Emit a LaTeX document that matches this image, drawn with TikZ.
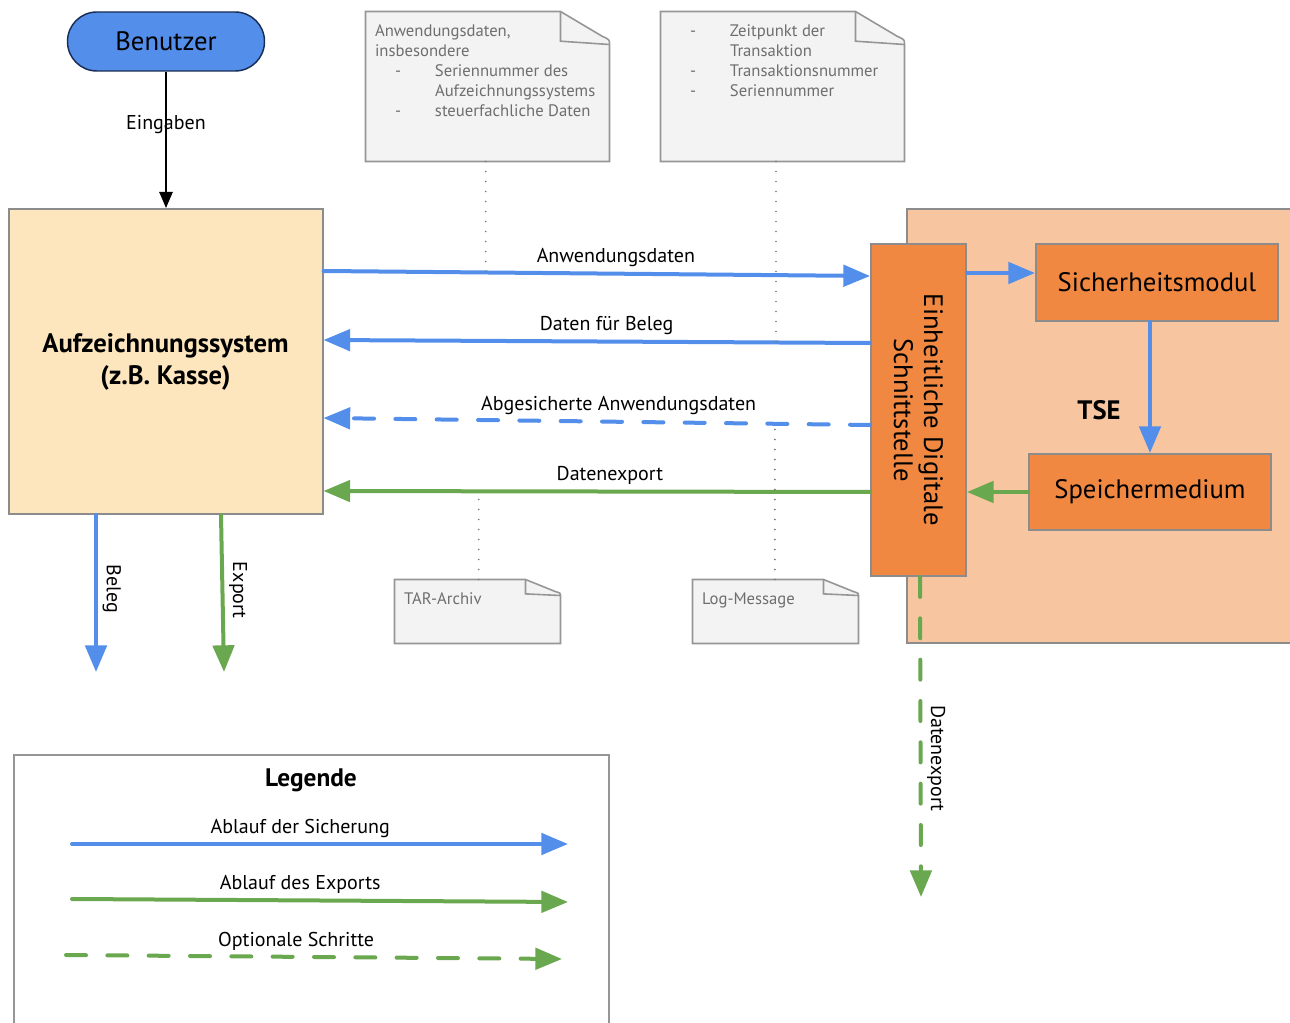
\documentclass[tikz,border=0pt]{standalone}
\usepackage{fontspec}
\setmainfont{PT Sans}
\usetikzlibrary{arrows.meta}

\definecolor{flowblue}{RGB}{82,142,234}
\definecolor{flowgreen}{RGB}{106,168,79}
\definecolor{boxorange}{RGB}{240,136,66}
\definecolor{tsebg}{RGB}{247,198,160}
\definecolor{sysfill}{RGB}{253,230,190}
\definecolor{notegray}{RGB}{243,243,243}
\definecolor{noteframe}{RGB}{150,150,150}
\definecolor{notetextgray}{RGB}{110,110,110}
\definecolor{boxframe}{RGB}{140,140,140}
\definecolor{userframe}{RGB}{25,45,85}
\definecolor{dotgray}{RGB}{120,120,120}

\tikzset{every picture/.style={line width=0.75pt}}
\tikzset{
  userbox/.style={draw=userframe, fill=flowblue, line width=1.1pt, rounded corners=22pt,
    minimum width=147.75pt, minimum height=44.25pt, font=\fontsize{20}{24}\selectfont},
  sysbox/.style={draw=boxframe, fill=sysfill, line width=1.5pt, align=center,
    minimum width=235.5pt, minimum height=228.75pt, font=\fontsize{20}{24}\selectfont\bfseries},
  tsebox/.style={draw=boxframe, fill=tsebg, line width=1.5pt,
    minimum width=288.75pt, minimum height=325.5pt},
  orangebox/.style={draw=boxframe, fill=boxorange, line width=1.5pt, font=\fontsize{20}{24}\selectfont},
  notebody/.style={draw=none, inner sep=0pt},
  noteline/.style={draw=noteframe, line width=1.2pt},
  notetext/.style={anchor=north west, inner sep=0pt, align=left, text=notetextgray,
    font=\fontsize{12.5}{15}\selectfont},
  dotline/.style={draw=dotgray, line width=1.4pt, line cap=round, dash pattern=on 0pt off 7.5pt},
  lbl/.style={font=\fontsize{15}{18}\selectfont, inner sep=3.5pt},
  inputflow/.style={draw=black, line width=1.1pt, -{Triangle[length=12pt,width=10pt]}},
  blueflow/.style={draw=flowblue, line width=3pt, line cap=round, -{Triangle[length=20pt,width=16pt]}},
  greenflow/.style={draw=flowgreen, line width=3pt, line cap=round, -{Triangle[length=20pt,width=16pt]}},
  optional/.style={dash pattern=on 15pt off 16pt}
}

% note outline: node, fold width, fold height (yshift points down, y is flipped)
\newcommand{\drawnote}[3]{%
  \draw[noteline, fill=notegray] (#1.north west) -- ([xshift=-#2]#1.north east)
    -- ([xshift=-0.15*#2, yshift=0.75*#3]#1.north east)
    .. controls ([yshift=0.85*#3]#1.north east) .. ([yshift=#3]#1.north east)
    -- (#1.south east) -- (#1.south west) -- cycle;
  \draw[noteline] ([xshift=-#2]#1.north east) -- ([xshift=-#2, yshift=0.9*#3]#1.north east)
    -- ([yshift=#3]#1.north east);
}
\newcommand{\notedash}{\makebox[45pt][l]{\hspace*{15pt}-}}
\newcommand{\noteskip}{\hspace*{45pt}}

\begin{document}
\begin{tikzpicture}[x=0.75pt,y=0.75pt,yscale=-1,xscale=1]
\useasboundingbox (0,0) rectangle (1290,1023);

% boxes
\node[userbox] (user) at (166,41.5) {Benutzer};
\node[sysbox] (sys) at (165.5,361.5) {Aufzeichnungssystem\\(z.B. Kasse)};
\node[tsebox] (tse) at (1099.5,426) {};
\node[orangebox, minimum width=71.25pt, minimum height=249pt] (eds) at (918.5,410) {};
\node[font=\fontsize{20}{22.5}\selectfont, rotate=-90, align=center] (edstext) at (eds.center) {Einheitliche Digitale\\Schnittstelle};
\node[orangebox, minimum width=181.5pt, minimum height=57.75pt] (sec) at (1157,282.5) {Sicherheitsmodul};
\node[orangebox, minimum width=181.5pt, minimum height=57pt] (mem) at (1150,492) {Speichermedium};
\node[font=\fontsize{20}{24}\selectfont\bfseries] (tselabel) at (1099,410) {TSE};

% notes
\node[notebody, minimum width=182.25pt, minimum height=111.75pt] (noteA) at (487.5,86.5) {};
\drawnote{noteA}{36.75pt}{24.75pt}
\node[notetext] (noteAtext) at ([xshift=6.75pt,yshift=9.75pt]noteA.north west)
  {Anwendungsdaten,\\insbesondere\\\notedash Seriennummer des\\\noteskip Aufzeichnungssystems\\\notedash steuerfachliche Daten};
\node[notebody, minimum width=182.25pt, minimum height=111.75pt] (noteB) at (782.5,86.5) {};
\drawnote{noteB}{36.75pt}{24.75pt}
\node[notetext] (noteBtext) at ([xshift=6.75pt,yshift=9.75pt]noteB.north west)
  {\notedash Zeitpunkt der\\\noteskip Transaktion\\\notedash Transaktionsnummer\\\notedash Seriennummer};
\node[notebody, minimum width=123.75pt, minimum height=47.25pt] (noteC) at (477.5,611.5) {};
\drawnote{noteC}{26.25pt}{12pt}
\node[notetext] (noteCtext) at ([xshift=6.75pt,yshift=9.75pt]noteC.north west) {TAR-Archiv};
\node[notebody, minimum width=123.75pt, minimum height=47.25pt] (noteD) at (775.5,611.5) {};
\drawnote{noteD}{26.25pt}{12pt}
\node[notetext] (noteDtext) at ([xshift=6.75pt,yshift=9.75pt]noteD.north west) {Log-Message};

% input
\draw[inputflow] (user.south) -- node[lbl, pos=0.39] {Eingaben} (user.south |- sys.north);

% flows between system and interface
\draw[blueflow] (sys.east |- 0,271) -- coordinate[pos=0.297] (pA)
  node[lbl, above, pos=0.535] {Anwendungsdaten} (eds.west |- 0,276);
\draw[blueflow] (eds.west |- 0,343) -- coordinate[pos=0.172] (pB)
  node[lbl, above, pos=0.482] {Daten für Beleg} (sys.east |- 0,340);
\draw[blueflow, optional] (eds.west |- 0,425) -- coordinate[pos=0.174] (pD)
  node[lbl, above, pos=0.46] {Abgesicherte Anwendungsdaten} (sys.east |- 0,418);
\draw[greenflow] (eds.west |- 0,492) -- coordinate[pos=0.716] (pC)
  node[lbl, above, pos=0.476] {Datenexport} (sys.east |- 0,491);

% inside TSE
\draw[blueflow] (eds.east |- 0,273) -- (sec.west |- 0,273);
\draw[blueflow] (mem.north |- sec.south) -- (mem.north);
\draw[greenflow] (mem.west) -- (eds.east |- mem.west);

% note links
\draw[dotline] (pA |- noteA.south) -- (pA);
\draw[dotline] (pB |- noteB.south) -- (pB);
\draw[dotline] (pC |- noteC.north) -- (pC);
\draw[dotline] (pD |- noteD.north) -- (pD);

% outputs
\coordinate (belegend) at (96,672);
\coordinate (exportend) at (224,672);
\coordinate (dexend) at (921,897);
\draw[blueflow] (sys.south -| belegend) -- node[lbl, rotate=-90, above, pos=0.47] {Beleg} (belegend);
\draw[greenflow] (sys.south -| 221,0) -- node[lbl, rotate=-90, above, pos=0.48] {Export} (exportend);
\draw[greenflow, optional] (eds.south -| 920,0) -- node[lbl, rotate=-90, above, pos=0.567] {Datenexport} (dexend);

% legend
\draw[draw=noteframe, line width=1.5pt] (14,1030) -- (14,755) -- (609,755) -- (609,1030);
\node[font=\fontsize{19}{23}\selectfont\bfseries] (legtitle) at (311,780) {Legende};
\coordinate (legA1) at (72,844);
\coordinate (legA2) at (568,844);
\coordinate (legB1) at (72,899);
\coordinate (legB2) at (568,902);
\coordinate (legC1) at (66,955);
\coordinate (legC2) at (562,959);
\draw[blueflow] (legA1) -- node[lbl, above, pos=0.46] {Ablauf der Sicherung} (legA2);
\draw[greenflow] (legB1) -- node[lbl, above, pos=0.46] {Ablauf des Exports} (legB2);
\draw[greenflow, optional] (legC1) -- node[lbl, above, pos=0.464] {Optionale Schritte} (legC2);

\end{tikzpicture}
\end{document}
